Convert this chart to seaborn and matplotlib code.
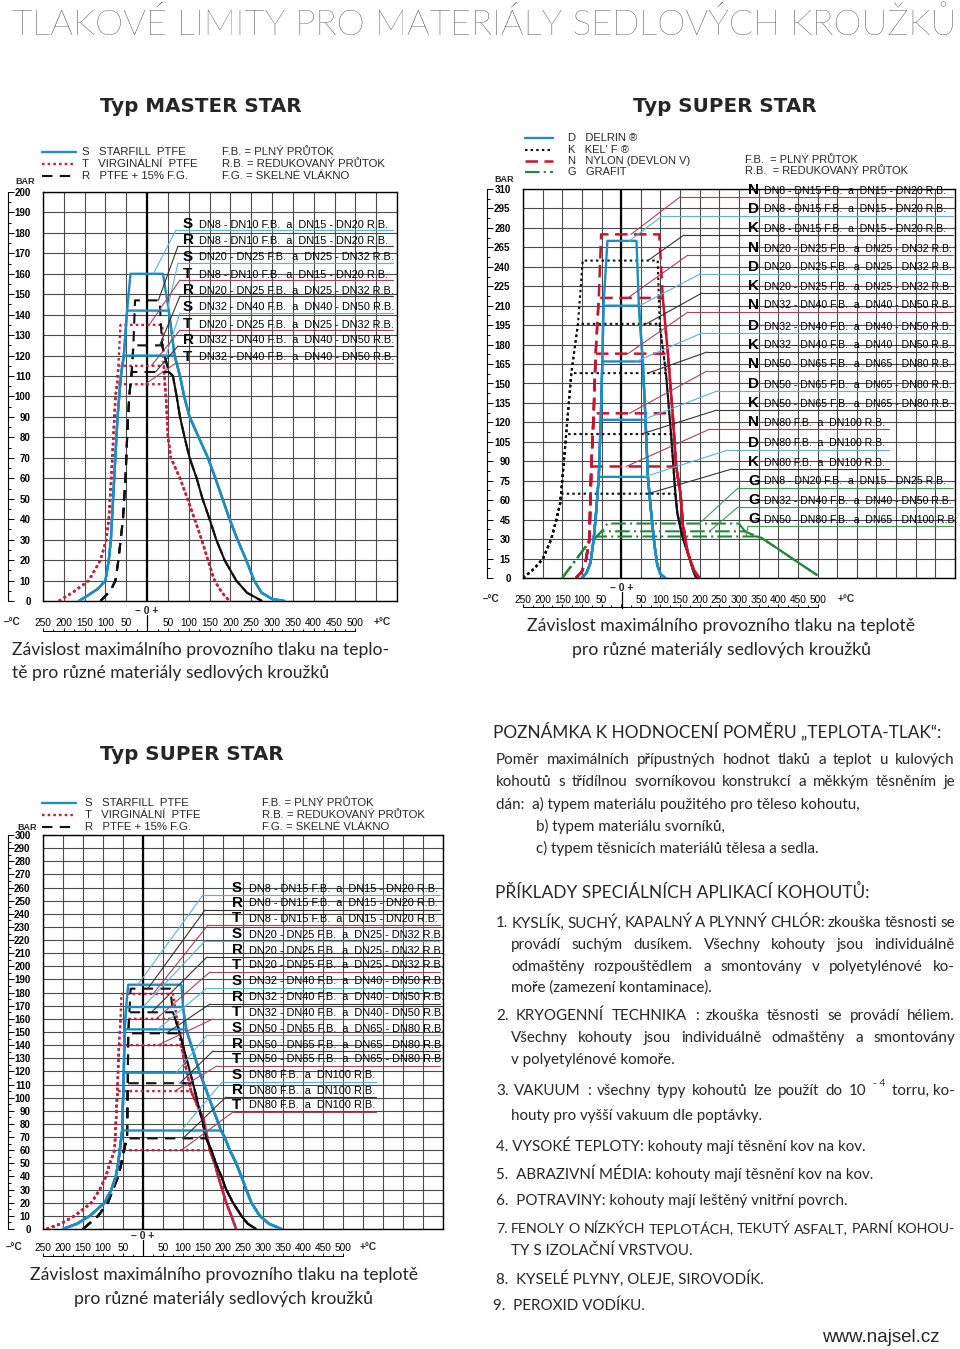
import numpy as np
import matplotlib
matplotlib.use("Agg")
import matplotlib.pyplot as plt
from matplotlib.lines import Line2D
import seaborn as sns

W, H = 960, 1349

sns.set_theme(style="white")
plt.rcParams["font.family"] = ["Liberation Sans", "DejaVu Sans"]
BODY = ["Lato", "DejaVu Sans"]

# ---------------- MASTER STAR (top left), temperature degC / pressure bar ----------------
ms_S_left_T = [-164, -140, -118, -100, -92, -87, -79, -71, -63, -56, -48, -40]
ms_S_left_P = [0, 3, 6, 10, 20, 30, 60, 90, 110, 120, 142, 160]
ms_S_right_T = [38, 52, 66, 79, 89, 102, 124, 146, 164, 181, 198, 217, 238, 257, 275, 300, 330]
ms_S_right_P = [160, 142, 120, 110, 100, 90, 80, 70, 60, 50, 40, 30, 20, 10, 4, 1, 0]
ms_S_levels = [160, 142, 120]

ms_T_left_T = [-212, -180, -140, -112, -98, -92, -86, -81, -76, -72, -69, -64]
ms_T_left_P = [0, 4, 10, 20, 30, 40, 60, 80, 100, 106, 115, 135]
ms_T_right_T = [36, 40, 43, 45, 48, 50, 57, 79, 97, 114, 131, 146, 162, 180, 198]
ms_T_right_P = [135, 115, 106, 100, 90, 80, 70, 60, 50, 40, 30, 20, 10, 4, 0]
ms_T_levels = [135, 115, 106]

ms_R_left_T = [-112, -88, -76, -69, -58, -52, -48, -43, -37, -33, -29]
ms_R_left_P = [0, 5, 10, 20, 40, 60, 80, 100, 112, 125, 147]
ms_R_right_T = [30, 36, 52, 62, 71, 79, 90, 102, 119, 133, 150, 166, 186, 214, 240, 276]
ms_R_right_P = [147, 125, 112, 110, 100, 90, 80, 70, 60, 50, 40, 30, 20, 10, 4, 0]
ms_R_levels = [147, 125, 112]

# ---------------- SUPER STAR D/K/N/G (top right) ----------------
ss_bar_ticks = [0, 15, 30, 45, 60, 75, 90, 105, 120, 135, 150, 165, 180, 195, 210, 225, 240, 265, 280, 295, 310]

ss_D_left_T = [-100, -88, -78, -70, -64, -57, -52, -48, -45, -35]
ss_D_left_P = [0, 4, 12, 30, 50, 78, 122, 167, 210, 270]
ss_D_right_T = [39, 45, 55, 62, 68, 78, 85, 92, 100, 112]
ss_D_right_P = [270, 210, 167, 122, 78, 45, 25, 10, 3, 0]
ss_D_levels = [270, 210, 167, 122, 78]

ss_K_left_T = [-250, -222, -199, -178, -165, -155, -153, -140, -127, -110, -98]
ss_K_left_P = [0, 7, 15, 30, 45, 58, 65, 111, 158, 196, 248]
ss_K_right_T = [93, 98, 114, 127, 138, 143, 150, 158, 174, 183, 191]
ss_K_right_P = [248, 196, 158, 111, 65, 50, 40, 30, 15, 6, 0]
ss_K_levels = [248, 196, 158, 111, 65]

ss_N_left_T = [-115, -100, -89, -81, -76, -70, -65, -57, -51]
ss_N_left_P = [0, 5, 15, 30, 86, 127, 173, 216, 275]
ss_N_right_T = [97, 106, 119, 131, 140, 151, 157, 169, 185, 199]
ss_N_right_P = [275, 216, 173, 127, 86, 65, 41, 20, 6, 0]
ss_N_levels = [275, 216, 173, 127, 86]

ss_G_left_T = [-150, -81, -62, -50, -35]
ss_G_left_P = [0, 28, 32, 36, 42]
ss_G_right_T = [300, 315, 345, 357, 500]
ss_G_right_P = [42, 36, 32, 31, 2]
ss_G_levels = [42, 36, 32]

# ---------------- SUPER STAR S/R/T (bottom left) ----------------
sb_S_left_T = [-200, -165, -133, -96, -79, -68, -62, -58, -52, -48, -46, -42, -37]
sb_S_left_P = [0, 4, 10, 20, 30, 40, 50, 60, 75, 119, 152, 169, 186]
sb_S_right_T = [96, 100, 108, 142, 195, 204, 217, 233, 246, 258, 271, 292, 315, 346]
sb_S_right_P = [186, 169, 152, 119, 75, 70, 60, 50, 40, 30, 20, 10, 4, 0]
sb_S_levels = [186, 169, 152, 119, 75]

sb_R_left_T = [-150, -112, -88, -75, -62, -54, -48, -40, -38, -37, -34, -31]
sb_R_left_P = [0, 10, 20, 30, 40, 50, 60, 69, 111, 149, 165, 183]
sb_R_right_T = [68, 75, 92, 125, 150, 158, 171, 182, 196, 208, 225, 246, 262, 283]
sb_R_right_P = [183, 165, 149, 111, 80, 69, 60, 50, 40, 30, 20, 10, 4, 0]
sb_R_levels = [183, 165, 149, 111, 69]

sb_T_left_T = [-241, -205, -171, -129, -108, -93, -83, -71, -64, -60, -56, -54]
sb_T_left_P = [0, 4, 10, 20, 30, 40, 50, 60, 105, 140, 160, 179]
sb_T_right_T = [75, 85, 95, 120, 152, 167, 179, 188, 198, 208, 221, 228, 233]
sb_T_right_P = [179, 160, 140, 105, 83, 60, 50, 40, 30, 20, 10, 4, 0]
sb_T_levels = [179, 160, 140, 105, 60]

# x tick labels (shown as absolute values on both sides of zero)
xt_pos = [-250, -200, -150, -100, -50, 50, 100, 150, 200, 250, 300, 350, 400, 450, 500]
xt_lab = ["250", "200", "150", "100", "50", "50", "100", "150", "200", "250", "300", "350", "400", "450", "500"]

# label rows: letter, text, text y (px), leader kink x (px), target temp, target bar
ms_rows = [
    ("S", "DN8 - DN10 F.B.  a  DN15 - DN20 R.B.", 224, 176, 15, 160),
    ("R", "DN8 - DN10 F.B.  a  DN15 - DN20 R.B.", 240, 178, 27, 147),
    ("S", "DN20 - DN25 F.B.  a  DN25 - DN32 R.B.", 257, 178, 48, 142),
    ("T", "DN8 - DN10 F.B.  a  DN15 - DN20 R.B.", 274, 180, 5, 135),
    ("R", "DN20 - DN25 F.B.  a  DN25 - DN32 R.B.", 290, 180, 30, 125),
    ("S", "DN32 - DN40 F.B.  a  DN40 - DN50 R.B.", 307, 180, 45, 120),
    ("T", "DN20 - DN25 F.B.  a  DN25 - DN32 R.B.", 324, 180, 10, 115),
    ("R", "DN32 - DN40 F.B.  a  DN40 - DN50 R.B.", 340, 178, 20, 112),
    ("T", "DN32 - DN40 F.B.  a  DN40 - DN50 R.B.", 357, 176, -5, 106),
]
ss_rows = [
    ("N", "DN8 - DN15 F.B.  a  DN15 - DN20 R.B.", 190, 680, 25, 275),
    ("D", "DN8 - DN15 F.B.  a  DN15 - DN20 R.B.", 209, 662, 21, 270),
    ("K", "DN8 - DN15 F.B.  a  DN15 - DN20 R.B.", 228, 684, 68, 248),
    ("N", "DN20 - DN25 F.B.  a  DN25 - DN32 R.B.", 248, 688, 17, 216),
    ("D", "DN20 - DN25 F.B.  a  DN25 - DN32 R.B.", 267, 700, 47, 210),
    ("K", "DN20 - DN25 F.B.  a  DN25 - DN32 R.B.", 286, 702, 64, 196),
    ("N", "DN32 - DN40 F.B.  a  DN40 - DN50 R.B.", 305, 688, 17, 173),
    ("D", "DN32 - DN40 F.B.  a  DN40 - DN50 R.B.", 326, 702, 38, 167),
    ("K", "DN32 - DN40 F.B.  a  DN40 - DN50 R.B.", 345, 707, 68, 158),
    ("N", "DN50 - DN65 F.B.  a  DN65 - DN80 R.B.", 364, 707, 21, 127),
    ("D", "DN50 - DN65 F.B.  a  DN65 - DN80 R.B.", 384, 717, 55, 122),
    ("K", "DN50 - DN65 F.B.  a  DN65 - DN80 R.B.", 403, 717, 51, 111),
    ("N", "DN80 F.B.  a  DN100 R.B.", 422, 710, 13, 86),
    ("D", "DN80 F.B.  a  DN100 R.B.", 443, 728, 59, 78),
    ("K", "DN80 F.B.  a  DN100 R.B.", 462, 732, 68, 65),
    ("G", "DN8 - DN20 F.B.  a  DN15 - DN25 R.B.", 481, 738, 199, 42),
    ("G", "DN32 - DN40 F.B.  a  DN40 - DN50 R.B.", 500, 738, 225, 36),
    ("G", "DN50 - DN80 F.B.  a  DN65 - DN100 R.B.", 519, 748, 318, 32),
]
sb_rows = [
    ("S", "DN8 - DN15 F.B.  a  DN15 - DN20 R.B.", 888, 203, -13, 186),
    ("R", "DN8 - DN15 F.B.  a  DN15 - DN20 R.B.", 903, 205, 12, 183),
    ("T", "DN8 - DN15 F.B.  a  DN15 - DN20 R.B.", 918, 208, 25, 179),
    ("S", "DN20 - DN25 F.B.  a  DN25 - DN32 R.B.", 934, 205, 0, 169),
    ("R", "DN20 - DN25 F.B.  a  DN25 - DN32 R.B.", 950, 207, 21, 165),
    ("T", "DN20 - DN25 F.B.  a  DN25 - DN32 R.B.", 965, 210, 33, 160),
    ("S", "DN32 - DN40 F.B.  a  DN40 - DN50 R.B.", 981, 207, 37, 152),
    ("R", "DN32 - DN40 F.B.  a  DN40 - DN50 R.B.", 997, 210, 58, 149),
    ("T", "DN32 - DN40 F.B.  a  DN40 - DN50 R.B.", 1012, 213, 37, 140),
    ("S", "DN50 - DN65 F.B.  a  DN65 - DN80 R.B.", 1028, 207, 83, 119),
    ("R", "DN50 - DN65 F.B.  a  DN65 - DN80 R.B.", 1044, 213, 92, 111),
    ("T", "DN50 - DN65 F.B.  a  DN65 - DN80 R.B.", 1059, 217, 79, 105),
    ("S", "DN80 F.B.  a  DN100 R.B.", 1075, 222, 96, 75),
    ("R", "DN80 F.B.  a  DN100 R.B.", 1090, 226, 100, 69),
    ("T", "DN80 F.B.  a  DN100 R.B.", 1105, 233, 96, 60),
]

BLUE, RED, BLACK, GREEN, NRED = "#1f8cc4", "#c2213f", "#111111", "#24873a", "#c8142f"
STY = {
    "S": dict(color=BLUE, ls="-", lw=1.7, lead="#5cb2d8"),
    "D": dict(color=BLUE, ls="-", lw=1.7, lead="#5cb2d8"),
    "T": dict(color=RED, ls=(0, (1.1, 1.3)), lw=1.7, lead="#a4435c"),
    "R": dict(color=BLACK, ls=(0, (5, 3.5)), lw=1.5, lead="#333333"),
    "K": dict(color=BLACK, ls=(0, (1.2, 1.5)), lw=1.5, lead="#333333"),
    "N": dict(color=NRED, ls=(0, (5, 2.6)), lw=1.8, lead="#a4435c"),
    "G": dict(color=GREEN, ls=(0, (7, 2, 1, 2)), lw=1.5, lead="#3d9b52"),
}
GRID = "#4a4a4a"

fig = plt.figure(figsize=(W / 100, H / 100), dpi=100)


def rect(x0, y0, x1, y1):
    return [x0 / W, 1 - y1 / H, (x1 - x0) / W, (y1 - y0) / H]


def ftext(x, y, s, **kw):
    kw.setdefault("va", "center")
    return fig.text(x / W, 1 - y / H, s, **kw)


def fline(x0, y0, x1, y1, **kw):
    fig.add_artist(Line2D([x0 / W, x1 / W], [1 - y0 / H, 1 - y1 / H], **kw))


def draw_family(ax, lT, lP, rT, rP, levels, key):
    st = STY[key]
    for lev in levels:
        xs = [t for t, p in zip(lT, lP) if p <= lev] + [t for t, p in zip(rT, rP) if p <= lev]
        ys = [p for p in lP if p <= lev] + [p for p in rP if p <= lev]
        sns.lineplot(x=xs, y=ys, ax=ax, sort=False, estimator=None,
                     color=st["color"], linewidth=st["lw"])
        ln = ax.lines[-1]
        ln.set_linestyle(st["ls"])
        ln.set_zorder(3)


def chart(box, xmax, ymax, yvals, ylabs, xpad, scale=None):
    ax = fig.add_axes(rect(*box))
    if scale is not None:
        ax.set_yscale("function", functions=scale)
    ax.set_xlim(-250, xmax)
    ax.set_ylim(0, ymax)
    ax.xaxis.remove_overlapping_locs = False
    ax.set_xticks(np.arange(-250, xmax + 1, 50), minor=True)
    ax.set_xticks(xt_pos, xt_lab)
    ax.set_yticks(yvals, ylabs)
    ax.grid(False)
    ax.grid(True, which="minor", axis="x", color=GRID, lw=0.8)
    ax.grid(True, which="major", axis="y", color=GRID, lw=0.8)
    ax.tick_params(which="both", length=0)
    ax.tick_params(axis="x", pad=xpad, labelsize=7.3, labelcolor="black")
    ax.tick_params(axis="y", pad=9, labelsize=7, labelcolor="black")
    for lab in ax.get_yticklabels():
        lab.set_fontweight("bold")
    for s in ax.spines.values():
        s.set_color("black")
        s.set_linewidth(1.0)
    ax.axvline(0, color="black", lw=1.6, zorder=2)
    ax.set_xlabel("")
    ax.set_ylabel("")
    return ax


def y_ruler(x, box, ymax, major, minor, scale=None):
    r = fig.add_axes(rect(x, box[1], x + 1, box[3]))
    if scale is not None:
        r.set_yscale("function", functions=scale)
    r.set_ylim(0, ymax)
    r.patch.set_visible(False)
    for s in ["top", "right", "bottom"]:
        r.spines[s].set_visible(False)
    r.spines["left"].set_color("black")
    r.spines["left"].set_linewidth(0.8)
    r.set_xticks([])
    r.set_yticks(major)
    r.set_yticks(minor, minor=True)
    r.tick_params(axis="y", which="both", direction="in", left=True, labelleft=False,
                  color="black", width=0.7)
    r.tick_params(axis="y", which="major", length=4)
    r.tick_params(axis="y", which="minor", length=2.5)


def x_ruler(box, y, xmax):
    r = fig.add_axes(rect(box[0], y - 1, box[2], y))
    r.set_xlim(-250, xmax)
    r.patch.set_visible(False)
    for s in ["top", "right", "left"]:
        r.spines[s].set_visible(False)
    r.spines["bottom"].set_bounds(-250, 500)
    r.spines["bottom"].set_color("black")
    r.spines["bottom"].set_linewidth(0.7)
    r.set_yticks([])
    r.set_xticks(np.arange(-250, 501, 50))
    r.set_xticks(np.arange(-225, 500, 50), minor=True)
    r.tick_params(axis="x", which="both", direction="in", bottom=True, labelbottom=False,
                  color="black", width=0.7)
    r.tick_params(axis="x", which="major", length=2.2)
    r.tick_params(axis="x", which="minor", length=1.4)


def labels(ax, rows, x_letter, x_text, x_end, x_end_short, dy, size):
    for letter, txt, y, kx, tt, tp in rows:
        st = STY[letter]
        ftext(x_letter, y, letter, fontsize=11, fontweight="bold", color="black")
        ftext(x_text, y + 0.5, txt, fontsize=size, color="black")
        end = x_end_short if txt.startswith("DN80 ") else x_end
        fline(kx, y + dy, end, y + dy, color=st["lead"], lw=0.8)
        ax.annotate("", xy=(tt, tp), xycoords="data", xytext=(kx, H - (y + dy)),
                    textcoords="figure pixels",
                    arrowprops=dict(arrowstyle="-", color=st["lead"], lw=0.8,
                                    shrinkA=0, shrinkB=0))


def legend_line(x0, x1, y, key):
    st = STY[key]
    fline(x0, y, x1, y, color=st["color"], lw=st["lw"], ls=st["ls"])


def axis_texts(zero_x, zero_y, lab_y, left_x, plus_x):
    ftext(zero_x, zero_y, "\u2013 0 +", fontsize=7.5, ha="center", fontweight="bold")
    ftext(left_x, lab_y, "\u2013\u00b0C", fontsize=7.3, fontweight="bold")
    ftext(plus_x, lab_y, "+\u00b0C", fontsize=7.3, fontweight="bold")
    fline(zero_x, lab_y - 7, zero_x, lab_y + 9, color="black", lw=0.9)


# ================= TOP LEFT: MASTER STAR =================
box = (43, 192, 397, 601)
ax1 = chart(box, 600, 200, list(range(0, 201, 10)), [str(v) for v in range(0, 201, 10)], 12.5)
draw_family(ax1, ms_T_left_T, ms_T_left_P, ms_T_right_T, ms_T_right_P, ms_T_levels, "T")
draw_family(ax1, ms_R_left_T, ms_R_left_P, ms_R_right_T, ms_R_right_P, ms_R_levels, "R")
draw_family(ax1, ms_S_left_T, ms_S_left_P, ms_S_right_T, ms_S_right_P, ms_S_levels, "S")
y_ruler(8, box, 200, list(range(0, 201, 10)), list(range(5, 200, 10)))
x_ruler(box, 631, 600)
labels(ax1, ms_rows, 183, 199, 393, 393, 6, 7.9)
axis_texts(147, 611, 622, 4, 374)
ftext(15, 181, "BAR", fontsize=6.5, fontweight="bold")
ftext(100, 106, "Typ MASTER STAR", fontsize=14.3, fontweight="bold", family=["DejaVu Sans"])
legend_line(42, 76, 152, "S")
legend_line(42, 76, 164, "T")
legend_line(42, 76, 176, "R")
ftext(82, 152, "S   STARFILL  PTFE", fontsize=8.2)
ftext(82, 164, "T   VIRGINÁLNÍ  PTFE", fontsize=8.2)
ftext(82, 176, "R   PTFE + 15% F.G.", fontsize=8.2)
ftext(222, 152, "F.B. = PLNÝ PRŮTOK", fontsize=8.2)
ftext(222, 164, "R.B. = REDUKOVANÝ PRŮTOK", fontsize=8.2)
ftext(222, 176, "F.G. = SKELNÉ VLÁKNO", fontsize=8.2)
ftext(12, 650, "Závislost maximálního provozního tlaku na teplo-", fontsize=12.6, family=BODY)
ftext(12, 673, "tě pro různé materiály sedlových kroužků", fontsize=12.6, family=BODY)

# ================= TOP RIGHT: SUPER STAR D/K/N/G =================
rows_idx = np.arange(len(ss_bar_ticks), dtype=float)
ss_scale = (lambda v: np.interp(v, ss_bar_ticks, rows_idx),
            lambda r: np.interp(r, rows_idx, ss_bar_ticks))
box = (523, 189, 955, 578)
ax2 = chart(box, 850, 310, ss_bar_ticks, [str(v) for v in ss_bar_ticks], 12.5, scale=ss_scale)
draw_family(ax2, ss_G_left_T, ss_G_left_P, ss_G_right_T, ss_G_right_P, ss_G_levels, "G")
draw_family(ax2, ss_K_left_T, ss_K_left_P, ss_K_right_T, ss_K_right_P, ss_K_levels, "K")
draw_family(ax2, ss_N_left_T, ss_N_left_P, ss_N_right_T, ss_N_right_P, ss_N_levels, "N")
draw_family(ax2, ss_D_left_T, ss_D_left_P, ss_D_right_T, ss_D_right_P, ss_D_levels, "D")
mid = [(a + b) / 2 for a, b in zip(ss_bar_ticks[:-1], ss_bar_ticks[1:])]
y_ruler(487, box, 310, ss_bar_ticks, mid, scale=ss_scale)
x_ruler(box, 607, 850)
labels(ax2, ss_rows, 748, 764, 953, 889, 7, 7.55)
axis_texts(622, 588, 599, 483, 838)
ftext(494, 180, "BAR", fontsize=6.5, fontweight="bold")
ftext(633, 107, "Typ SUPER STAR", fontsize=14.3, fontweight="bold", family=["DejaVu Sans"])
legend_line(525, 553, 138, "D")
legend_line(525, 553, 150, "K")
legend_line(525, 553, 161, "N")
legend_line(525, 553, 172, "G")
ftext(568, 138, "D   DELRIN \u00ae", fontsize=8)
ftext(568, 150, "K   KEL' F \u00ae", fontsize=8)
ftext(568, 161, "N   NYLON (DEVLON V)", fontsize=8)
ftext(568, 172, "G   GRAFIT", fontsize=8)
ftext(745, 160, "F.B.  = PLNÝ PRŮTOK", fontsize=8)
ftext(745, 171, "R.B.  = REDUKOVANÝ PRŮTOK", fontsize=8)
ftext(721, 626, "Závislost maximálního provozního tlaku na teplotě", fontsize=12.7, family=BODY, ha="center")
ftext(721, 650, "pro různé materiály sedlových kroužků", fontsize=12.7, family=BODY, ha="center")

# ================= BOTTOM LEFT: SUPER STAR S/R/T =================
box = (43, 835, 443, 1229)
ax3 = chart(box, 750, 300, list(range(0, 301, 10)), [str(v) for v in range(0, 301, 10)], 10)
draw_family(ax3, sb_T_left_T, sb_T_left_P, sb_T_right_T, sb_T_right_P, sb_T_levels, "T")
draw_family(ax3, sb_R_left_T, sb_R_left_P, sb_R_right_T, sb_R_right_P, sb_R_levels, "R")
draw_family(ax3, sb_S_left_T, sb_S_left_P, sb_S_right_T, sb_S_right_P, sb_S_levels, "S")
y_ruler(8, box, 300, list(range(0, 301, 10)), list(range(5, 300, 10)))
x_ruler(box, 1256, 750)
labels(ax3, sb_rows, 232, 249, 440, 376, 7, 7.9)
axis_texts(143, 1236, 1247, 6, 360)
ftext(17, 828, "BAR", fontsize=6.5, fontweight="bold")
ftext(100, 754, "Typ SUPER STAR", fontsize=14.3, fontweight="bold", family=["DejaVu Sans"])
legend_line(42, 76, 803, "S")
legend_line(42, 76, 815, "T")
legend_line(42, 76, 827, "R")
ftext(85, 803, "S   STARFILL  PTFE", fontsize=8.2)
ftext(85, 815, "T   VIRGINÁLNÍ  PTFE", fontsize=8.2)
ftext(85, 827, "R   PTFE + 15% F.G.", fontsize=8.2)
ftext(262, 803, "F.B. = PLNÝ PRŮTOK", fontsize=8.2)
ftext(262, 815, "R.B. = REDUKOVANÝ PRŮTOK", fontsize=8.2)
ftext(262, 827, "F.G. = SKELNÉ VLÁKNO", fontsize=8.2)
ftext(224, 1275, "Závislost maximálního provozního tlaku na teplotě", fontsize=12.7, family=BODY, ha="center")
ftext(224, 1299, "pro různé materiály sedlových kroužků", fontsize=12.7, family=BODY, ha="center")

# ================= TITLE AND NOTES =================
ftext(12, 25, "TLAKOVÉ LIMITY PRO MATERIÁLY SEDLOVÝCH KROUŽKŮ", fontsize=25.8, family=BODY,
      fontweight="light")

renderer = fig.canvas.get_renderer()
SIZE = 10.9


def justify(x0, x1, y, s, size=SIZE):
    words = s.split()
    ts = [ftext(0, y, w, fontsize=size, family=BODY) for w in words]
    while True:
        ws = [t.get_window_extent(renderer).width for t in ts]
        gap = (x1 - x0 - sum(ws)) / max(len(words) - 1, 1)
        if gap >= 3 or size < 8:
            break
        size -= 0.2
        for t in ts:
            t.set_fontsize(size)
    x = x0
    for t, w in zip(ts, ws):
        t.set_x(x / W)
        x += w + gap


def body(x, y, s, **kw):
    return ftext(x, y, s, fontsize=SIZE, family=BODY, **kw)


ftext(493, 731, "POZNÁMKA K HODNOCENÍ POMĚRU \u201eTEPLOTA-TLAK\u201c:", fontsize=12.4, family=BODY)
justify(496, 955, 760, "Poměr maximálních přípustných hodnot tlaků a teplot u kulových")
justify(496, 955, 782, "kohoutů s třídílnou svorníkovou konstrukcí a měkkým těsněním je")
body(496, 804, "dán:  a) typem materiálu použitého pro těleso kohoutu,")
body(536, 826, "b) typem materiálu svorníků,")
body(536, 848, "c) typem těsnicích materiálů tělesa a sedla.")
ftext(495, 892, "PŘÍKLADY SPECIÁLNÍCH APLIKACÍ KOHOUTŮ:", fontsize=12.5, family=BODY)
justify(496, 955, 923, "1. KYSLÍK, SUCHÝ, KAPALNÝ A PLYNNÝ CHLÓR: zkouška těsnosti se")
justify(511, 955, 945, "provádí suchým dusíkem. Všechny kohouty jsou individuálně")
justify(511, 955, 967, "odmaštěny rozpouštědlem a smontovány v polyetylénové ko-")
body(511, 988, "moře (zamezení kontaminace).")
justify(496, 955, 1016, "2. KRYOGENNÍ TECHNIKA : zkouška těsnosti se provádí héliem.")
justify(511, 955, 1038, "Všechny kohouty jsou individuálně odmaštěny a smontovány")
body(511, 1060, "v polyetylénové komoře.")
justify(496, 866, 1091, "3. VAKUUM : všechny typy kohoutů lze použít do 10")
ftext(873, 1084, "- 4", fontsize=7.5, family=BODY)
body(955, 1091, "torru, ko-", ha="right")
body(511, 1116, "houty pro vyšší vakuum dle poptávky.")
body(496, 1145, "4. VYSOKÉ TEPLOTY: kohouty mají těsnění kov na kov.")
body(496, 1173, "5.  ABRAZIVNÍ MÉDIA: kohouty mají těsnění kov na kov.")
body(496, 1201, "6.  POTRAVINY: kohouty mají leštěný vnitřní povrch.")
justify(496, 955, 1229, "7. FENOLY O NÍZKÝCH TEPLOTÁCH, TEKUTÝ ASFALT, PARNÍ KOHOU-")
body(511, 1251, "TY S IZOLAČNÍ VRSTVOU.")
body(496, 1279, "8.  KYSELÉ PLYNY, OLEJE, SIROVODÍK.")
body(493, 1306, "9.  PEROXID VODÍKU.")
ftext(822, 1338, "www.najsel.cz", fontsize=13.5)

fig.savefig("out.png", dpi=100)
